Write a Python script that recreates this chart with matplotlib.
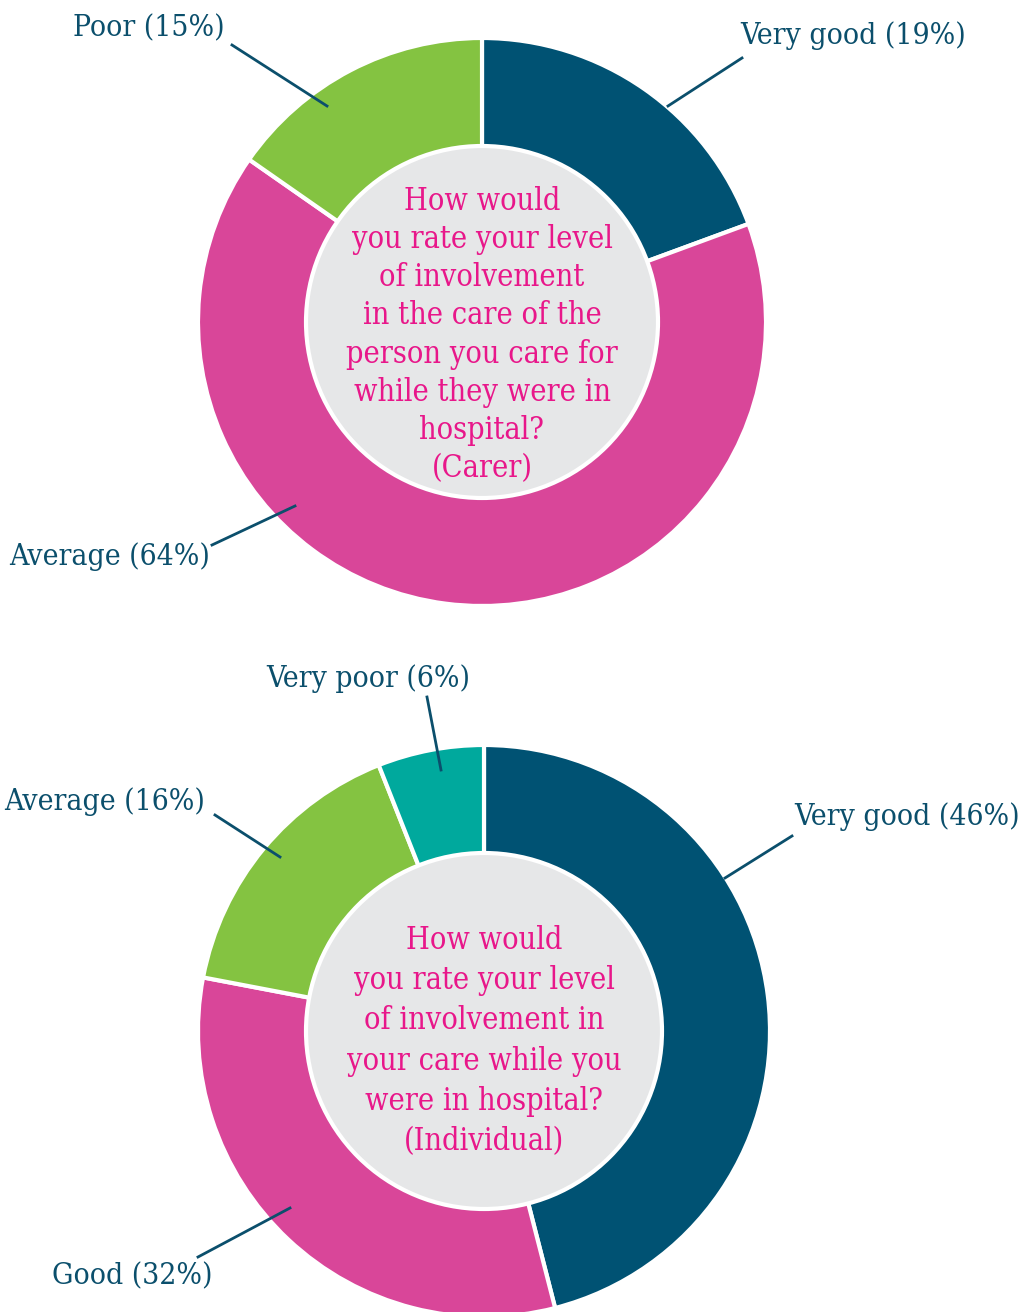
import matplotlib.pyplot as plt
from matplotlib.patches import Circle

# carer survey (top donut)
carer_labels = ["Very good", "Average", "Poor"]
carer_values = [19, 64, 15]
carer_colors = ["#005273", "#d94699", "#84c341"]
carer_question = ("How would\nyou rate your level\nof involvement\nin the care of the\n"
                  "person you care for\nwhile they were in\nhospital?\n(Carer)")

# individual survey (bottom donut)
indiv_labels = ["Very good", "Good", "Average", "Very poor"]
indiv_values = [46, 32, 16, 6]
indiv_colors = ["#005273", "#d94699", "#84c341", "#00a99d"]
indiv_question = ("How would\nyou rate your level\nof involvement in\nyour care while you\n"
                  "were in hospital?\n(Individual)")

W, H = 1024, 1312
label_col = "#0b4f6c"
question_col = "#e8178a"
font = dict(family="DejaVu Serif", fontstretch="condensed")

fig = plt.figure(figsize=(W / 100, H / 100), dpi=100)
ax = fig.add_axes([0, 0, 1, 1])
ax.set_aspect("equal")
ax.axis("off")


def donut(values, colors, center, r_out, r_in):
    ax.pie(values, colors=colors, startangle=90, counterclock=False,
           center=center, radius=r_out, frame=True,
           wedgeprops=dict(edgecolor="white", linewidth=3))
    ax.add_patch(Circle(center, r_in, facecolor="#e6e7e8",
                        edgecolor="white", linewidth=3, zorder=3))


def callout(text, xy_line, xy_text, ha):
    (x0, y0), (x1, y1) = xy_line
    ax.plot([x0, x1], [H - y0, H - y1], color=label_col, lw=2, zorder=4)
    ax.text(xy_text[0], H - xy_text[1], text, color=label_col, fontsize=21.5,
            ha=ha, va="center", **font)


# top donut
c1 = (482, H - 322)
donut(carer_values, carer_colors, c1, 284, 176)
ax.text(c1[0], H - 335, carer_question, ha="center", va="center",
        color=question_col, fontsize=22, linespacing=1.30, **font)
callout(f"{carer_labels[0]} ({carer_values[0]}%)", ((668, 106), (742, 58)), (740, 36), "left")
callout(f"{carer_labels[2]} ({carer_values[2]}%)", ((327, 106), (232, 45)), (225, 28), "right")
callout(f"{carer_labels[1]} ({carer_values[1]}%)", ((295, 506), (212, 545)), (210, 557), "right")

# bottom donut
c2 = (484, H - 1031)
donut(indiv_values, indiv_colors, c2, 286, 178)
ax.text(c2[0], H - 1041, indiv_question, ha="center", va="center",
        color=question_col, fontsize=22, linespacing=1.39, **font)
callout(f"{indiv_labels[3]} ({indiv_values[3]}%)", ((441, 770), (427, 697)), (368, 679), "center")
callout(f"{indiv_labels[2]} ({indiv_values[2]}%)", ((280, 857), (215, 815)), (205, 802), "right")
callout(f"{indiv_labels[0]} ({indiv_values[0]}%)", ((725, 878), (792, 836)), (794, 817), "left")
callout(f"{indiv_labels[1]} ({indiv_values[1]}%)", ((290, 1208), (198, 1257)), (212, 1276), "right")

ax.set_xlim(0, W)
ax.set_ylim(0, H)
fig.savefig("out.png", dpi=100)
